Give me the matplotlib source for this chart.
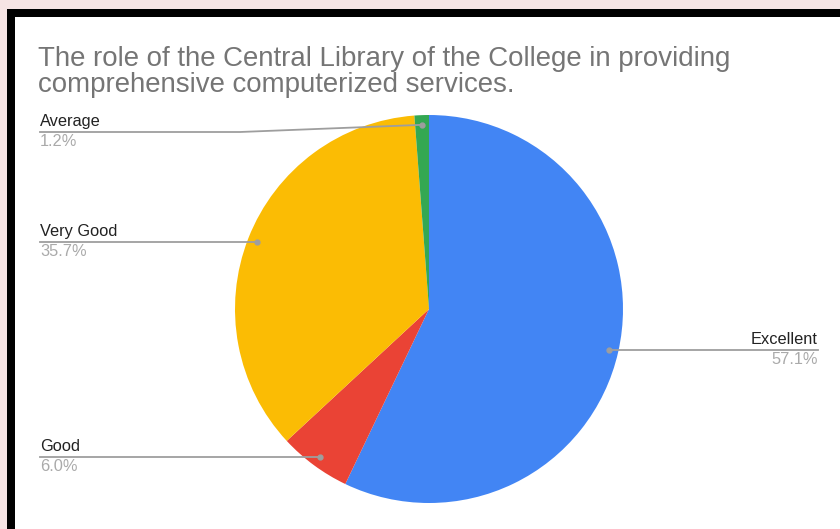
import numpy as np
import matplotlib.pyplot as plt
from matplotlib.patches import Rectangle

plt.rcParams['font.family'] = ['Liberation Sans', 'DejaVu Sans']

# data
labels = ['Excellent', 'Good', 'Very Good', 'Average']
values = [57.1, 6.0, 35.7, 1.2]
colors = ['#4285F4', '#EA4335', '#FBBC04', '#34A853']
title = ("The role of the Central Library of the College in providing\n"
         "comprehensive computerized services.")

W, H = 840, 529
fig = plt.figure(figsize=(W / 100, H / 100), dpi=100, facecolor='#f6e4e4')
ax = fig.add_axes([0, 0, 1, 1])

def py(y):
    # image pixel row -> data y
    return H - y

# black frame and white card
ax.add_patch(Rectangle((7, py(540)), 850, 531, facecolor='black', edgecolor='none', zorder=0))
ax.add_patch(Rectangle((15, py(540)), 850, 523, facecolor='white', edgecolor='none', zorder=0))

cx, cy, r = 429, 309, 194
wedges, _ = ax.pie(values, colors=colors, startangle=90, counterclock=False,
                   center=(cx, py(cy)), radius=r, frame=True,
                   wedgeprops=dict(linewidth=0))
ax.set_xlim(0, W)
ax.set_ylim(0, H)
ax.axis('off')

ax.text(38, py(46), title, fontsize=19.9, color='#757575', va='top', ha='left',
        linespacing=1.02)

line_c = '#9e9e9e'
name_c = '#222222'
pct_c = '#aaaaaa'
fs = 11.8
for w, lab, val in zip(wedges, labels, values):
    ang = np.deg2rad((w.theta1 + w.theta2) / 2)
    dx = cx + 0.95 * r * np.cos(ang)
    dy = py(cy) + 0.95 * r * np.sin(ang)
    ax.plot(dx, dy, 'o', ms=3.5, color=line_c, zorder=5)
    if lab == 'Excellent':
        x_end = 818
        ax.plot([dx, x_end], [dy, dy], color=line_c, lw=1.3, zorder=4)
        ax.text(x_end, dy + 3, lab, ha='right', va='bottom', fontsize=fs, color=name_c)
        ax.text(x_end, dy - 2, f'{val:.1f}%', ha='right', va='top', fontsize=fs, color=pct_c)
    else:
        x_end = 40
        ly = dy
        if lab == 'Average':
            ly = py(132)
            ax.plot([x_end, 240, dx], [ly, ly, dy], color=line_c, lw=1.3, zorder=4)
        else:
            ax.plot([x_end, dx], [ly, ly], color=line_c, lw=1.3, zorder=4)
        ax.text(x_end, ly + 3, lab, ha='left', va='bottom', fontsize=fs, color=name_c)
        ax.text(x_end, ly - 2, f'{val:.1f}%', ha='left', va='top', fontsize=fs, color=pct_c)

fig.savefig('out.png', dpi=100, facecolor=fig.get_facecolor())
